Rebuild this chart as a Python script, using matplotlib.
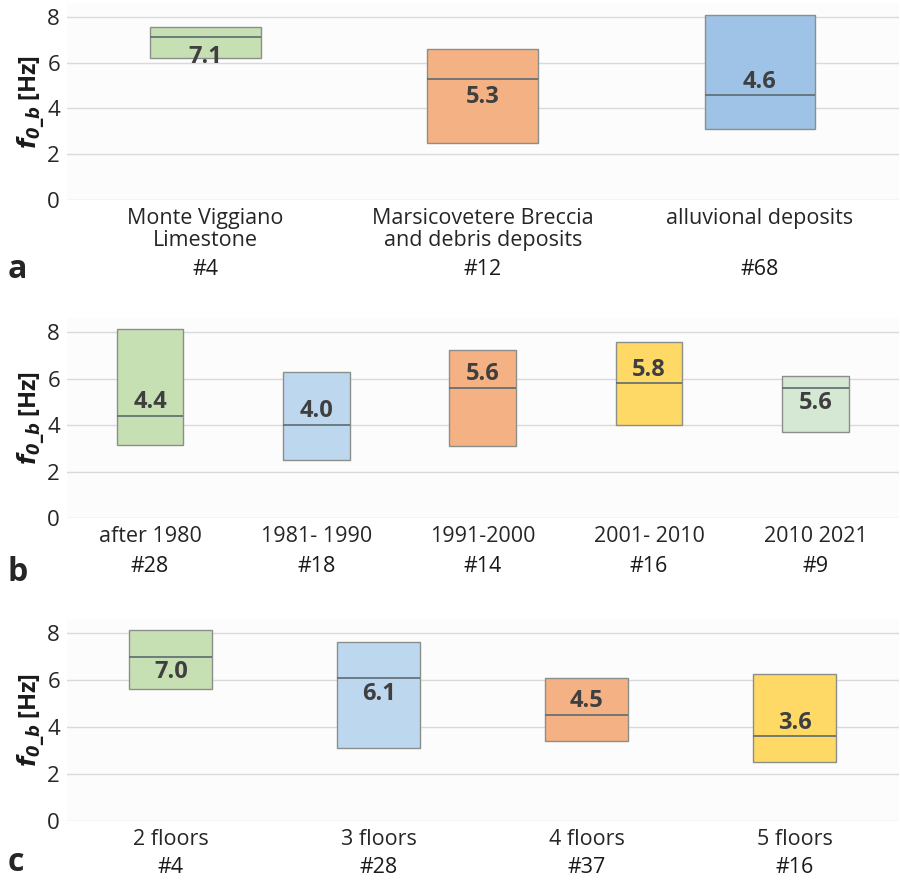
import matplotlib.pyplot as plt
import numpy as np

plt.rcParams['font.family'] = ['Open Sans', 'DejaVu Sans']

# a - geology
geo_names = ['Monte Viggiano\nLimestone', 'Marsicovetere Breccia\nand debris deposits', 'alluvional deposits']
geo_n = ['#4', '#12', '#68']
geo_low = [6.2, 2.5, 3.1]
geo_high = [7.55, 6.6, 8.1]
geo_med = [7.1, 5.3, 4.6]
geo_colors = ['#c6e0b4', '#f4b183', '#9fc3e7']

# b - construction period
age_names = ['after 1980', '1981- 1990', '1991-2000', '2001- 2010', '2010 2021']
age_n = ['#28', '#18', '#14', '#16', '#9']
age_low = [3.15, 2.5, 3.1, 4.0, 3.7]
age_high = [8.15, 6.3, 7.25, 7.6, 6.1]
age_med = [4.4, 4.0, 5.6, 5.8, 5.6]
age_colors = ['#c6e0b4', '#bdd7ee', '#f4b183', '#ffd966', '#d5e8d4']

# c - number of floors
fl_names = ['2 floors', '3 floors', '4 floors', '5 floors']
fl_n = ['#4', '#28', '#37', '#16']
fl_low = [5.6, 3.1, 3.4, 2.5]
fl_high = [8.15, 7.6, 6.1, 6.25]
fl_med = [7.0, 6.1, 4.5, 3.6]
fl_colors = ['#c6e0b4', '#bdd7ee', '#f4b183', '#ffd966']

# value label above (+) or below (-) the median line, in points
lab_a = [-14, -13, 9]
lab_b = [10, 10, 10, 10, -11]
lab_c = [-11, -12, 10, 10]

fig = plt.figure(figsize=(9, 8.82), dpi=100)
fig.patch.set_facecolor('white')

def panel(rect, names, counts, low, high, med, colors, dy, n_off, letter, letter_y):
    ax = fig.add_axes(rect)
    ax.set_facecolor('#fcfcfc')
    x = np.arange(len(names))
    low = np.array(low)
    high = np.array(high)
    ax.bar(x, high - low, bottom=low, width=0.4, color=colors,
           edgecolor='#8a8f8a', linewidth=1, zorder=3)
    ax.hlines(med, x - 0.2, x + 0.2, color='#5c6b70', linewidth=1.2, zorder=4)
    for xi, m, d in zip(x, med, dy):
        ax.annotate('%.1f' % m, (xi, m), xytext=(0, d), textcoords='offset points',
                    ha='center', va='center', fontsize=17, fontweight='bold',
                    color='#3f3f3f', zorder=5)
    # sample counts under the category names
    for xi, c in zip(x, counts):
        ax.annotate(c, (xi, 0), xycoords=('data', 'axes fraction'),
                    xytext=(0, -n_off), textcoords='offset points',
                    ha='center', va='center', fontsize=15.5, color='#1a1a1a',
                    annotation_clip=False)
    ax.set_xlim(-0.5, len(names) - 0.5)
    ax.set_ylim(0, 8.6)
    ax.set_yticks([0, 2, 4, 6, 8])
    ax.set_xticks(x)
    ax.set_xticklabels(names, fontsize=15.5, color='#262626', linespacing=1.05)
    ax.tick_params(axis='x', length=0, pad=6, colors='#262626')
    ax.tick_params(axis='y', length=0, pad=5, labelsize=16, colors='#262626')
    ax.grid(axis='y', color='#d9d9d9', linewidth=1, zorder=0)
    for s in ax.spines.values():
        s.set_visible(False)
    ax.set_ylabel(r'$\mathbfit{f}_{\mathbfit{0\_b}}$ [Hz]', fontsize=17,
                  fontweight='bold', color='#1a1a1a', labelpad=1)
    fig.text(0.008, letter_y, letter, fontsize=23, fontweight='bold',
             color='#262626', va='center')
    return ax

panel([0.0744, 0.7732, 0.924, 0.2233], geo_names, geo_n, geo_low, geo_high, geo_med,
      geo_colors, lab_a, 50, 'a', 0.694)
panel([0.0744, 0.4127, 0.924, 0.2262], age_names, age_n, age_low, age_high, age_med,
      age_colors, lab_b, 35, 'b', 0.351)
panel([0.0744, 0.0692, 0.924, 0.2290], fl_names, fl_n, fl_low, fl_high, fl_med,
      fl_colors, lab_c, 33.5, 'c', 0.022)

plt.savefig('out.png', dpi=100, facecolor='white')
